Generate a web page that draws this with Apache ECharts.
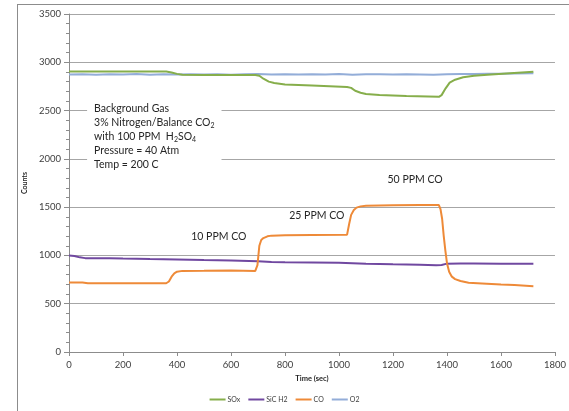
<!DOCTYPE html>
<html>
<head>
<meta charset="utf-8">
<script src="https://cdn.jsdelivr.net/npm/echarts@6/dist/echarts.min.js"></script>
<style>
  html, body { margin: 0; padding: 0; background: #fff; overflow: hidden; }
  #frame { position: absolute; left: 17px; top: 4px; width: 700px; height: 600px;
           border-left: 1px solid #8c8c8c; border-top: 1px solid #8c8c8c; }
  #chart { position: absolute; left: 0; top: 0; width: 569px; height: 411px; }
</style>
</head>
<body>
<div id="frame"></div>
<div id="chart"></div>
<script>
// Sensor response (counts) over time while CO is stepped 10 / 25 / 50 ppm
const soxTime = [0, 100, 200, 300, 360, 380, 400, 420, 500, 600, 690, 705, 720, 740, 760, 800, 900, 1030, 1045, 1060, 1080, 1100, 1150, 1250, 1370, 1380, 1395, 1410, 1430, 1460, 1500, 1550, 1620, 1720];
const soxCounts = [2905, 2905, 2905, 2905, 2905, 2895, 2880, 2870, 2868, 2868, 2868, 2860, 2830, 2800, 2785, 2770, 2760, 2745, 2735, 2705, 2685, 2672, 2662, 2652, 2642, 2660, 2730, 2790, 2820, 2845, 2860, 2872, 2885, 2903];

const sicTime = [0, 20, 40, 60, 100, 150, 200, 300, 400, 500, 600, 700, 750, 800, 900, 1000, 1100, 1200, 1300, 1360, 1380, 1400, 1450, 1500, 1600, 1720];
const sicCounts = [1000, 995, 980, 972, 970, 972, 967, 962, 958, 952, 948, 940, 932, 930, 927, 924, 915, 908, 903, 898, 900, 915, 916, 917, 915, 915];

const coTime = [0, 50, 70, 200, 360, 370, 380, 390, 400, 420, 500, 600, 690, 698, 705, 712, 720, 735, 750, 800, 900, 1030, 1038, 1045, 1055, 1065, 1080, 1100, 1200, 1300, 1370, 1376, 1382, 1388, 1394, 1400, 1408, 1418, 1430, 1450, 1480, 1530, 1600, 1650, 1720];
const coCounts = [720, 720, 712, 712, 712, 730, 780, 815, 832, 840, 842, 845, 840, 900, 1100, 1160, 1180, 1198, 1205, 1210, 1212, 1215, 1330, 1420, 1470, 1495, 1508, 1514, 1520, 1522, 1522, 1480, 1380, 1200, 1050, 920, 830, 780, 755, 735, 718, 710, 698, 693, 680];

const o2Time = [0, 50, 100, 150, 200, 250, 300, 350, 400, 450, 500, 550, 600, 650, 700, 750, 800, 850, 900, 950, 1000, 1050, 1100, 1150, 1200, 1250, 1300, 1350, 1400, 1450, 1500, 1550, 1600, 1650, 1720];
const o2Counts = [2873, 2877, 2871, 2876, 2874, 2878, 2872, 2876, 2874, 2877, 2873, 2876, 2872, 2875, 2878, 2874, 2877, 2873, 2876, 2874, 2878, 2872, 2875, 2877, 2873, 2876, 2874, 2871, 2876, 2879, 2878, 2882, 2881, 2884, 2886];

const seriesNames = ['SOx', 'SiC H2', 'CO', 'O2'];
const seriesColors = ['#86AE4B', '#7048A0', '#EE8A38', '#93ADD8'];
const xTicks = [0, 200, 400, 600, 800, 1000, 1200, 1400, 1600, 1800];
const yTicks = [0, 500, 1000, 1500, 2000, 2500, 3000, 3500];

const pairs = (t, v) => t.map((x, i) => [x, v[i]]);
const seriesData = [pairs(soxTime, soxCounts), pairs(sicTime, sicCounts), pairs(coTime, coCounts), pairs(o2Time, o2Counts)];

const FONT = 'Lato, "Open Sans", sans-serif';
const chart = echarts.init(document.getElementById('chart'), null, { renderer: 'canvas' });

chart.setOption({
  animation: false,
  backgroundColor: 'transparent',
  grid: { left: 69, right: 5, top: 14, bottom: 59, containLabel: false },
  xAxis: {
    type: 'value', min: xTicks[0], max: xTicks[xTicks.length - 1], interval: 200,
    name: 'Time (sec)', nameLocation: 'middle', nameGap: 22,
    nameTextStyle: { fontFamily: FONT, fontSize: 7.5, fontWeight: 'bold', color: '#262626' },
    axisLine: { show: true, lineStyle: { color: '#8c8c8c', width: 1 } },
    axisTick: { show: true, length: 4, lineStyle: { color: '#8c8c8c' } },
    axisLabel: { fontFamily: FONT, fontSize: 9.5, color: '#404040', margin: 8, formatter: v => String(v) },
    splitLine: { show: false }
  },
  yAxis: {
    type: 'value', min: yTicks[0], max: yTicks[yTicks.length - 1], interval: 500,
    name: 'Counts', nameLocation: 'middle', nameGap: 34, nameRotate: 90,
    nameTextStyle: { fontFamily: FONT, fontSize: 7, fontWeight: 'bold', color: '#262626' },
    axisLine: { show: true, lineStyle: { color: '#8c8c8c', width: 1 } },
    axisTick: { show: true, length: 5, lineStyle: { color: '#8c8c8c' } },
    minorTick: { show: true, splitNumber: 5, length: 3, lineStyle: { color: '#8c8c8c' } },
    axisLabel: { fontFamily: FONT, fontSize: 9.5, color: '#404040', margin: 8, formatter: v => String(v) },
    splitLine: { show: true, lineStyle: { color: '#a6a6a6', width: 1 } }
  },
  legend: {
    data: seriesNames, bottom: 3, left: 'center',
    icon: 'rect', itemWidth: 16, itemHeight: 2, itemGap: 8,
    textStyle: { fontFamily: FONT, fontSize: 7, color: '#404040', padding: [0, 0, 0, -3] }
  },
  series: seriesNames.map((name, i) => ({
    name, type: 'line', data: seriesData[i], showSymbol: false, symbol: 'none',
    color: seriesColors[i],
    lineStyle: { width: 2, color: seriesColors[i] },
    z: i === 3 ? 1 : 2
  }))
});

// Annotations placed in data coordinates
const px = (x, y) => chart.convertToPixel({ xAxisIndex: 0, yAxisIndex: 0 }, [x, y]);
const label = (text, at) => {
  const p = px(at[0], at[1]);
  return { type: 'text', x: p[0], y: p[1], z: 10,
    style: { text, fontFamily: FONT, fontSize: 10.5, fill: '#262626', align: 'center', verticalAlign: 'middle' } };
};
const boxAnchor = px(67, 2620);
chart.setOption({
  graphic: [
    label('10 PPM CO', [555, 1200]),
    label('25 PPM CO', [918, 1410]),
    label('50 PPM CO', [1282, 1790]),
    {
      type: 'text', x: boxAnchor[0], y: boxAnchor[1], z: 10,
      style: {
        text: 'Background Gas\n3% Nitrogen/Balance CO{s|2}\nwith 100 PPM  H{s|2}SO{s|4}\nPressure = 40 Atm\nTemp = 200 C',
        fontFamily: FONT, fontSize: 10.5, fill: '#262626', lineHeight: 14,
        backgroundColor: '#ffffff', padding: [3, 7, 3, 7],
        rich: { s: { fontFamily: FONT, fontSize: 7, fill: '#262626', padding: [6, 0, 0, 0], lineHeight: 14 } }
      }
    }
  ]
});
</script>
</body>
</html>
